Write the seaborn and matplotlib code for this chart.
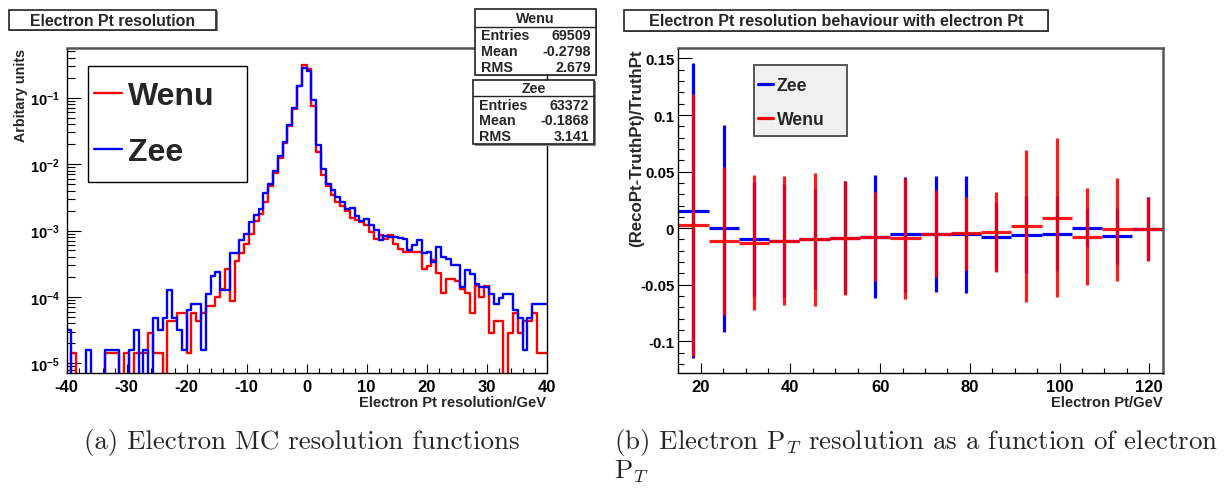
import numpy as np
import pandas as pd
import matplotlib
matplotlib.use('Agg')
import matplotlib.pyplot as plt
from matplotlib.patches import Rectangle
from matplotlib.lines import Line2D
from matplotlib.ticker import MultipleLocator, FuncFormatter, LogLocator, NullFormatter
import seaborn as sns

# ---- left panel: resolution histograms, 100 bins from -40 to 40 GeV (entries per bin)
res_range = (-40, 40)
n_res_bins = 100
wenu_counts = [0, 1, 0, 0, 0, 0, 0, 0, 1, 1,
               1, 0, 1, 0, 1, 1, 1, 2, 1, 1,
               0, 3, 3, 4, 4, 1, 4, 3, 4, 5,
               5, 7, 9, 18, 6, 24, 32, 44, 62, 95,
               125, 190, 320, 510, 867, 1445, 2570, 4742, 10290, 21300,
               19030, 5143, 1057, 481, 325, 235, 185, 163, 135, 108,
               100, 93, 83, 66, 52, 59, 52, 59, 44, 37,
               33, 33, 33, 33, 18, 20, 25, 16, 8, 13,
               13, 12, 9, 8, 4, 10, 7, 10, 2, 3,
               3, 0, 2, 4, 2, 3, 3, 4, 1, 1]
zee_counts = [2, 0, 0, 0, 1, 0, 0, 0, 1, 1,
              1, 0, 0, 1, 2, 0, 1, 0, 3, 2,
              3, 8, 3, 2, 1, 4, 5, 5, 1, 7,
              13, 15, 8, 8, 29, 29, 45, 57, 85, 110,
              132, 230, 314, 499, 828, 1365, 2426, 4475, 9375, 17740,
              15980, 5775, 1213, 541, 314, 255, 205, 170, 135, 140,
              104, 88, 95, 76, 64, 45, 53, 50, 50, 49,
              48, 32, 38, 45, 29, 30, 21, 36, 25, 24,
              19, 19, 9, 16, 14, 10, 9, 9, 7, 5,
              6, 7, 7, 4, 3, 1, 3, 5, 5, 5]
stat_names = ['Entries', 'Mean', 'RMS']
wenu_stats = ['69509', '-0.2798', '2.679']
zee_stats = ['63372', '-0.1868', '3.141']
wenu_entries = 69509
zee_entries = 63372

# ---- right panel: mean relative resolution per electron Pt bin (16 bins, 15-123 GeV)
pt_edges = np.linspace(15, 123, 17)
zee_mean = [0.0155, 0.0, -0.0096, -0.011, -0.0098, -0.0083, -0.0074, -0.0055,
            -0.0053, -0.0055, -0.008, -0.0056, -0.0047, 0.0006, -0.0068, -0.0003]
zee_err = [0.1305, 0.0915, 0.05, 0.05, 0.044, 0.05, 0.0545, 0.0505,
           0.0513, 0.052, 0.030, 0.034, 0.0335, 0.017, 0.025, 0.028]
wenu_mean = [0.0027, -0.0115, -0.013, -0.0113, -0.0098, -0.0085, -0.0076, -0.009,
             -0.005, -0.0046, -0.0032, 0.0021, 0.0094, -0.0074, -0.001, -0.0006]
wenu_err = [0.1155, 0.0656, 0.0596, 0.057, 0.0587, 0.0505, 0.0395, 0.0533,
            0.0385, 0.0325, 0.0354, 0.067, 0.0705, 0.0425, 0.0458, 0.028]

sns.set_style('white')
plt.rcParams['font.family'] = ['Liberation Sans', 'DejaVu Sans']
plt.rcParams['font.weight'] = 'bold'
plt.rcParams['axes.unicode_minus'] = False
plt.rcParams['mathtext.fontset'] = 'custom'
plt.rcParams['mathtext.rm'] = 'Liberation Sans:bold'
plt.rcParams['mathtext.bf'] = 'Liberation Sans:bold'
plt.rcParams['mathtext.it'] = 'Liberation Sans:bold:italic'

W, H = 1226, 489
fig = plt.figure(figsize=(W / 100, H / 100), dpi=100)
fig.patch.set_facecolor('white')


def frame(ax, right_color):
    for s in ['left', 'bottom']:
        ax.spines[s].set_color('black')
        ax.spines[s].set_linewidth(1.0)
    ax.spines['top'].set_color('#555555')
    ax.spines['top'].set_linewidth(1.8)
    ax.spines['right'].set_color(right_color)
    ax.spines['right'].set_linewidth(1.8 if right_color != 'black' else 1.0)
    ax.tick_params(which='both', direction='in', colors='black', width=0.8,
                   top=False, right=False, bottom=True, left=True)
    ax.tick_params(axis='x', labelsize=12)


# ---------------- left panel ----------------
ax1 = fig.add_axes([66.5 / W, 115 / H, 480 / W, 325 / H])
res_edges = np.linspace(res_range[0], res_range[1], n_res_bins + 1)
centers = 0.5 * (res_edges[:-1] + res_edges[1:])
hist_df = pd.DataFrame({
    'res': np.concatenate([centers, centers]),
    'frac': np.concatenate([np.array(wenu_counts) / wenu_entries,
                            np.array(zee_counts) / zee_entries]),
    'sample': ['Wenu'] * len(centers) + ['Zee'] * len(centers),
})
for name, col in [('Wenu', 'red'), ('Zee', 'blue')]:
    sns.histplot(data=hist_df[hist_df['sample'] == name], x='res', weights='frac',
                 bins=n_res_bins, binrange=res_range, element='step', fill=False,
                 color=col, linewidth=1.7, ax=ax1)
ax1.set_yscale('log')
ax1.set_xlim(-40, 40)
ax1.set_ylim(7.15e-6, 0.56)
frame(ax1, 'black')
ax1.xaxis.set_major_locator(MultipleLocator(10))
ax1.xaxis.set_minor_locator(MultipleLocator(2))
ax1.xaxis.set_major_formatter(FuncFormatter(lambda v, p: '%d' % v))
ax1.yaxis.set_major_locator(LogLocator(base=10, numticks=10))
ax1.yaxis.set_minor_locator(LogLocator(base=10, subs=np.arange(2, 10), numticks=20))
ax1.yaxis.set_minor_formatter(NullFormatter())
ax1.yaxis.set_major_formatter(FuncFormatter(lambda v, p: r'$10^{%d}$' % round(np.log10(v))))
ax1.tick_params(axis='x', which='major', length=6.5, pad=4)
ax1.tick_params(axis='x', which='minor', length=3.3)
ax1.tick_params(axis='y', which='major', length=10, pad=5, labelsize=10.5)
ax1.tick_params(axis='y', which='minor', length=5.5)
ax1.set_xlabel('Electron Pt resolution/GeV', loc='right', fontsize=10.6, fontweight='bold', labelpad=1)
ax1.set_ylabel('Arbitary units', loc='top', fontsize=10.3, fontweight='bold', labelpad=2)
ax1.yaxis.set_label_coords(-0.080, 1.0)

# ---------------- right panel ----------------
ax2 = fig.add_axes([678.3 / W, 115 / H, 484.4 / W, 324.7 / H])
pt_centers = 0.5 * (pt_edges[:-1] + pt_edges[1:])
half_w = 0.5 * np.diff(pt_edges)
ax2.errorbar(pt_centers, zee_mean, xerr=half_w, yerr=zee_err, fmt='none',
             ecolor='blue', elinewidth=2.3, capsize=0)
ax2.errorbar(pt_centers, wenu_mean, xerr=half_w, yerr=wenu_err, fmt='none',
             ecolor='red', elinewidth=2.3, capsize=0, alpha=0.9)
ax2.set_xlim(15, 123)
ax2.set_ylim(-0.128, 0.159)
frame(ax2, '#555555')
ax2.xaxis.set_major_locator(MultipleLocator(20))
ax2.xaxis.set_minor_locator(MultipleLocator(5))
ax2.xaxis.set_major_formatter(FuncFormatter(lambda v, p: '%d' % v))
ax2.yaxis.set_major_locator(MultipleLocator(0.05))
ax2.yaxis.set_minor_locator(MultipleLocator(0.01))
ax2.yaxis.set_major_formatter(FuncFormatter(lambda v, p: '%g' % round(v, 3) if abs(v) > 1e-9 else '0'))
ax2.tick_params(axis='x', which='major', length=7, pad=4)
ax2.tick_params(axis='x', which='minor', length=3.4)
ax2.tick_params(axis='y', which='major', length=10, pad=3, labelsize=10.8)
ax2.tick_params(axis='y', which='minor', length=4)
ax2.set_xlabel('Electron Pt/GeV', loc='right', fontsize=10.6, fontweight='bold', labelpad=1)
ax2.set_ylabel('(RecoPt-TruthPt)/TruthPt', loc='top', fontsize=12.2, fontweight='bold', labelpad=2)
ax2.yaxis.set_label_coords(-0.071, 1.0)

# ---------------- overlay: legend boxes, title boxes, stats boxes, captions ----------------
ov = fig.add_axes([0, 0, 1, 1], zorder=10)
ov.set_xlim(0, W)
ov.set_ylim(H, 0)
ov.axis('off')
ov.patch.set_alpha(0)


def box(x0, y0, x1, y1, lw=1.2, face='white', edge='#222222', shadow=True):
    if shadow:
        ov.add_patch(Rectangle((x0 + 1.5, y0 + 1.5), x1 - x0, y1 - y0, facecolor='#888888',
                               edgecolor='none'))
    ov.add_patch(Rectangle((x0, y0), x1 - x0, y1 - y0, facecolor=face,
                           edgecolor=edge, linewidth=lw))


# legend of the left panel
box(88.3, 66.7, 246.7, 182.7, lw=1.0, edge='black', shadow=False)
leg1 = ov.legend([Line2D([], [], color='red', lw=1.7), Line2D([], [], color='blue', lw=1.7)],
                 ['Wenu', 'Zee'], loc='center left',
                 bbox_to_anchor=(94 / W, 1 - 124.9 / H), bbox_transform=fig.transFigure,
                 borderaxespad=0, borderpad=0, handlelength=0.88, handletextpad=0.19,
                 labelspacing=0.81, frameon=False, prop={'size': 23, 'weight': 'bold'})

# legend of the right panel
box(753.7, 65.7, 847, 137, lw=1.4, face='#f0f0f0', edge='#555555', shadow=False)
leg2 = ov.legend([Line2D([], [], color='blue', lw=2.3), Line2D([], [], color='red', lw=2.3)],
                 ['Zee', 'Wenu'], loc='center left',
                 bbox_to_anchor=(757.7 / W, 1 - 103.5 / H), bbox_transform=fig.transFigure,
                 borderaxespad=0, borderpad=0, handlelength=0.89, handletextpad=0.19,
                 labelspacing=0.97, frameon=False, prop={'size': 12.7, 'weight': 'bold'})
ov.add_artist(leg1)

box(9, 10.7, 216, 30.7)
ov.text(112.5, 21, 'Electron Pt resolution', ha='center', va='center', fontsize=11.4, fontweight='bold')
box(624.3, 10.7, 1047.7, 31.7)
ov.text(836, 21.5, 'Electron Pt resolution behaviour with electron Pt', ha='center', va='center',
        fontsize=11.6, fontweight='bold')

for name, stats, (x0, y0, x1, y1, yh, rows) in [
        ('Wenu', wenu_stats, (475, 10.3, 595.7, 75.7, 27.7, [35.5, 52.5, 68.5])),
        ('Zee', zee_stats, (473, 80.7, 594.3, 145, 97.3, [105.5, 121, 136.7]))]:
    box(x0, y0, x1, y1)
    ov.plot([x0, x1], [yh, yh], color='#222222', lw=1.0)
    ov.text(0.5 * (x0 + x1), 0.5 * (y0 + yh), name, ha='center', va='center',
            fontsize=10.3, fontweight='bold')
    for sn, sv, yy in zip(stat_names, stats, rows):
        ov.text(x0 + 5.5, yy, sn, ha='left', va='center', fontsize=10.3, fontweight='bold')
        ov.text(x1 - 5, yy, sv, ha='right', va='center', fontsize=10.3, fontweight='bold')

cap_kw = dict(fontsize=19.4, family='cmr10', fontweight='normal', va='center', math_fontfamily='cm')
ov.text(84, 443, '(a) Electron MC resolution functions', **cap_kw)
ov.text(614, 443, r'(b) Electron P$_{T}$ resolution as a function of electron', **cap_kw)
ov.text(614, 472, r'P$_{T}$', **cap_kw)

fig.savefig('out.png', dpi=100)
